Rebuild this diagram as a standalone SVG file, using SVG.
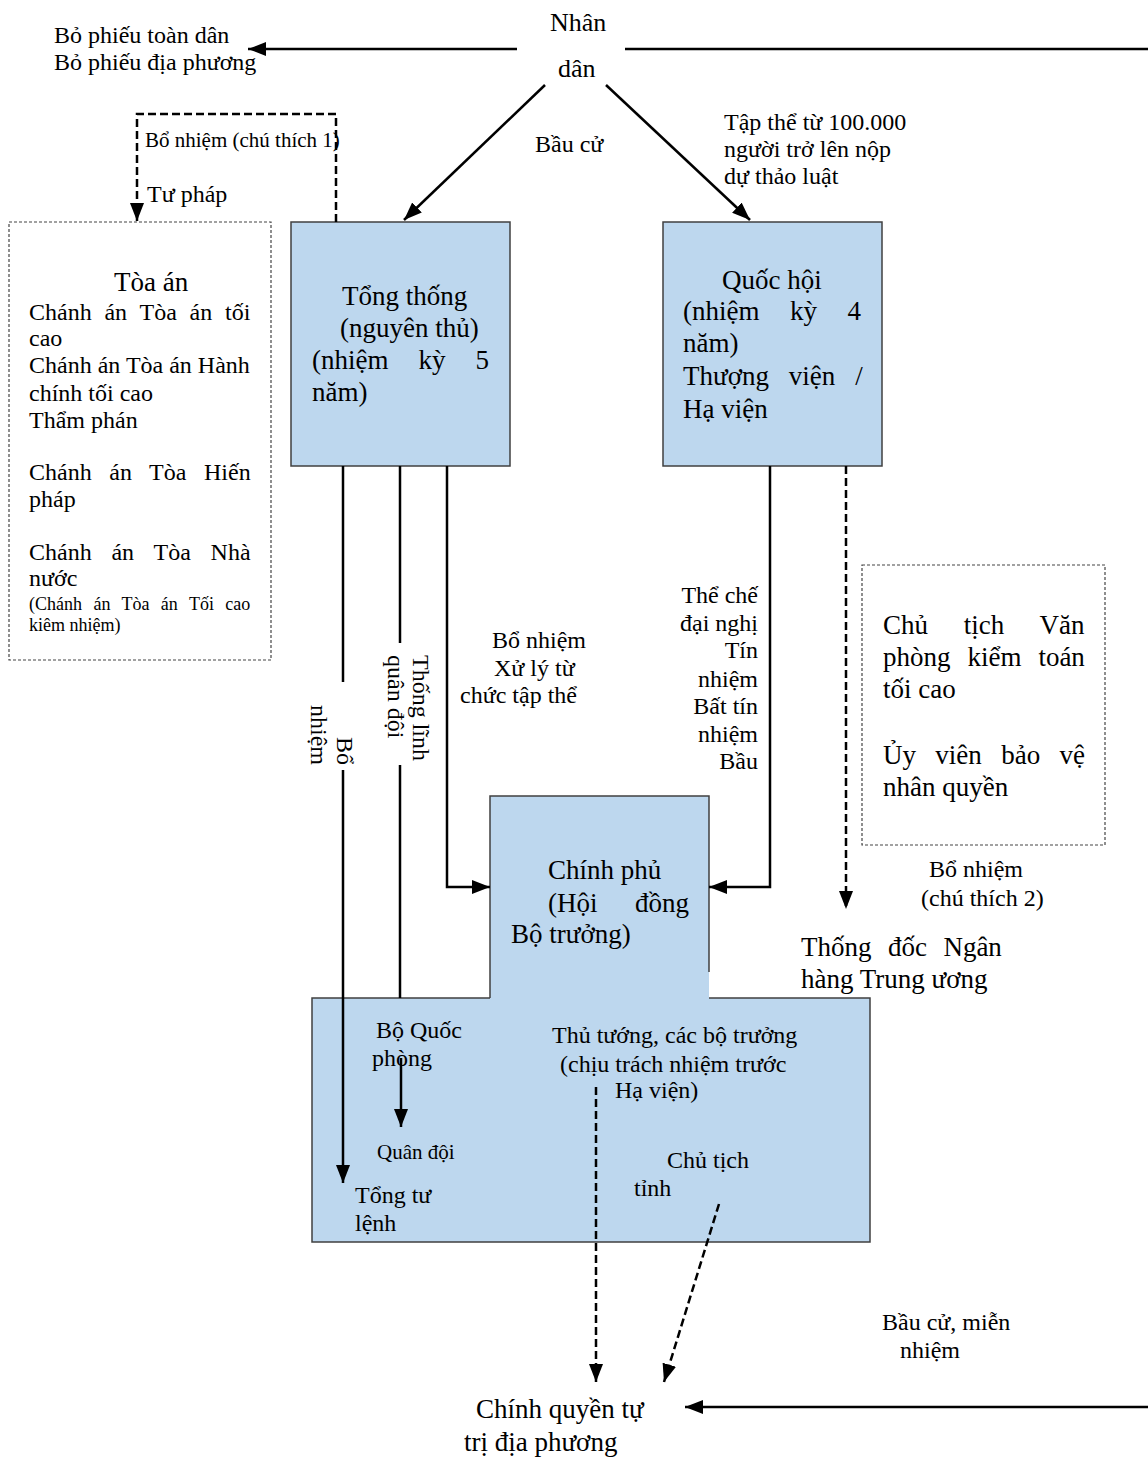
<svg xmlns="http://www.w3.org/2000/svg" width="1148" height="1457" viewBox="0 0 1148 1457">
<style>
text{font-family:"Liberation Serif","Times New Roman",serif;fill:#000}
.f27{font-size:27px}
.f26{font-size:26px}
.f24{font-size:24px}
.f21{font-size:21px}
.f18{font-size:18px}
.box{fill:#BDD7EE;stroke:#404040;stroke-width:1.5}
.dot{fill:#fff;stroke:#444;stroke-width:1.2;stroke-dasharray:3 2}
.ln{fill:none;stroke:#000;stroke-width:2.5}
.dl{fill:none;stroke:#000;stroke-width:2.5;stroke-dasharray:8 4}
</style>
<defs>
<marker id="ah" markerUnits="userSpaceOnUse" markerWidth="18" markerHeight="14" refX="18" refY="7" orient="auto">
<path d="M0,0 L18,7 L0,14 z" fill="#000"/>
</marker>
</defs>
<rect width="1148" height="1457" fill="#fff"/>

<g id="nhan-dan">
<text class="f26" x="550" y="31">Nhân</text>
<text class="f26" x="558" y="77">dân</text>
</g>

<g id="bo-phieu">
<text class="f24" x="54" y="43">Bỏ phiếu toàn dân</text>
<text class="f24" x="54" y="70">Bỏ phiếu địa phương</text>
</g>

<g id="toa-an">
<rect class="dot" x="9" y="222" width="262" height="438"/>
<text class="f27" x="114" y="291">Tòa án</text>
<text class="f24" x="29" y="320" style="word-spacing:6.8px">Chánh án Tòa án tối</text>
<text class="f24" x="29" y="346">cao</text>
<text class="f24" x="29" y="373">Chánh án Tòa án Hành</text>
<text class="f24" x="29" y="401">chính tối cao</text>
<text class="f24" x="29" y="428">Thẩm phán</text>
<text class="f24" x="29" y="480" style="word-spacing:11.6px">Chánh án Tòa Hiến</text>
<text class="f24" x="29" y="507">pháp</text>
<text class="f24" x="29" y="560" style="word-spacing:13.8px">Chánh án Tòa Nhà</text>
<text class="f24" x="29" y="586">nước</text>
<text class="f18" x="29" y="610" style="word-spacing:6.9px">(Chánh án Tòa án Tối cao</text>
<text class="f18" x="29" y="631">kiêm nhiệm)</text>
</g>

<g id="tong-thong">
<rect class="box" x="291" y="222" width="219" height="244"/>
<text class="f27" x="342" y="305">Tổng thống</text>
<text class="f27" x="340" y="337">(nguyên thủ)</text>
<text class="f27" x="312" y="369" style="word-spacing:23.2px">(nhiệm kỳ 5</text>
<text class="f27" x="312" y="401">năm)</text>
</g>

<g id="quoc-hoi">
<rect class="box" x="663" y="222" width="219" height="244"/>
<text class="f27" x="722" y="289">Quốc hội</text>
<text class="f27" x="683" y="320" style="word-spacing:23.7px">(nhiệm kỳ 4</text>
<text class="f27" x="683" y="352">năm)</text>
<text class="f27" x="683" y="385" style="word-spacing:13.2px">Thượng viện /</text>
<text class="f27" x="683" y="418">Hạ viện</text>
</g>

<g id="chu-tich-vp">
<rect class="dot" x="862" y="565" width="243" height="280"/>
<text class="f27" x="883" y="634" style="word-spacing:29px">Chủ tịch Văn</text>
<text class="f27" x="883" y="666" style="word-spacing:10.2px">phòng kiểm toán</text>
<text class="f27" x="883" y="698">tối cao</text>
<text class="f27" x="883" y="764" style="word-spacing:12.6px">Ủy viên bảo vệ</text>
<text class="f27" x="883" y="796">nhân quyền</text>
</g>

<g id="chinh-phu">
<rect x="312" y="998" width="558" height="244" fill="#BDD7EE"/>
<rect x="490" y="796" width="219" height="203" fill="#BDD7EE"/>
<path d="M490,998 V796 H709 V972" fill="none" stroke="#404040" stroke-width="1.5"/>
<path d="M490,998 H312 V1242 H870 V998 H709" fill="none" stroke="#404040" stroke-width="1.5"/>
<text class="f27" x="548" y="879">Chính phủ</text>
<text class="f27" x="548" y="912" style="word-spacing:30.7px">(Hội đồng</text>
<text class="f27" x="511" y="943">Bộ trưởng)</text>
<text class="f24" x="376" y="1038">Bộ Quốc</text>
<text class="f24" x="372" y="1066">phòng</text>
<text class="f21" x="377" y="1159">Quân đội</text>
<text class="f24" x="355" y="1203">Tổng tư</text>
<text class="f24" x="355" y="1231">lệnh</text>
<text class="f24" x="552" y="1043">Thủ tướng, các bộ trưởng</text>
<text class="f24" x="560" y="1072">(chịu trách nhiệm trước</text>
<text class="f24" x="615" y="1098">Hạ viện)</text>
<text class="f24" x="667" y="1168">Chủ tịch</text>
<text class="f24" x="634" y="1196">tỉnh</text>
</g>

<g id="thong-doc">
<text class="f27" x="801" y="956" style="word-spacing:9.7px">Thống đốc Ngân</text>
<text class="f27" x="801" y="988">hàng Trung ương</text>
</g>

<g id="chinh-quyen">
<text class="f27" x="476" y="1418">Chính quyền tự</text>
<text class="f27" x="464" y="1451">trị địa phương</text>
</g>

<g id="connectors">
<path class="ln" d="M517,49 H248" marker-end="url(#ah)"/>
<path class="ln" d="M625,49 H1148"/>
<path class="ln" d="M545,85 L404,220" marker-end="url(#ah)"/>
<path class="ln" d="M606,85 L750,220" marker-end="url(#ah)"/>
<path class="dl" d="M336,222 V114 H137 V221" marker-end="url(#ah)"/>
<path class="ln" d="M343,466 V682"/>
<path class="ln" d="M343,770 V1183" marker-end="url(#ah)"/>
<path class="ln" d="M400,466 V643"/>
<path class="ln" d="M400,765 V998"/>
<path class="ln" d="M401,1058 V1127" marker-end="url(#ah)"/>
<path class="ln" d="M447,466 V887 H490" marker-end="url(#ah)"/>
<path class="ln" d="M770,466 V887 H709" marker-end="url(#ah)"/>
<path class="dl" d="M846,466 V909" marker-end="url(#ah)"/>
<path class="dl" d="M596,1087 V1382" marker-end="url(#ah)"/>
<path class="dl" d="M719,1204 L664,1382" marker-end="url(#ah)"/>
<path class="ln" d="M1148,1407 H685" marker-end="url(#ah)"/>
</g>

<g id="labels">
<text class="f21" x="145" y="147">Bổ nhiệm (chú thích 1)</text>
<text class="f24" x="147" y="202">Tư pháp</text>
<text class="f24" x="535" y="152">Bầu cử</text>
<text class="f24" x="724" y="130">Tập thể từ 100.000</text>
<text class="f24" x="724" y="157">người trở lên nộp</text>
<text class="f24" x="724" y="184">dự thảo luật</text>
<text class="f24" transform="translate(337,765) rotate(90)" text-anchor="end">Bổ</text>
<text class="f24" transform="translate(311,765) rotate(90)" text-anchor="end">nhiệm</text>
<text class="f24" transform="translate(413,655) rotate(90)">Thống lĩnh</text>
<text class="f24" transform="translate(388,655) rotate(90)">quân đội</text>
<text class="f24" x="492" y="648">Bổ nhiệm</text>
<text class="f24" x="494" y="676">Xử lý từ</text>
<text class="f24" x="460" y="703">chức tập thể</text>
<g text-anchor="end">
<text class="f24" x="758" y="603">Thể chế</text>
<text class="f24" x="758" y="631">đại nghị</text>
<text class="f24" x="758" y="658">Tín</text>
<text class="f24" x="758" y="687">nhiệm</text>
<text class="f24" x="758" y="714">Bất tín</text>
<text class="f24" x="758" y="742">nhiệm</text>
<text class="f24" x="758" y="769">Bầu</text>
</g>
<text class="f24" x="929" y="877">Bổ nhiệm</text>
<text class="f24" x="921" y="906">(chú thích 2)</text>
<text class="f24" x="882" y="1330">Bầu cử, miễn</text>
<text class="f24" x="900" y="1358">nhiệm</text>
</g>
</svg>
